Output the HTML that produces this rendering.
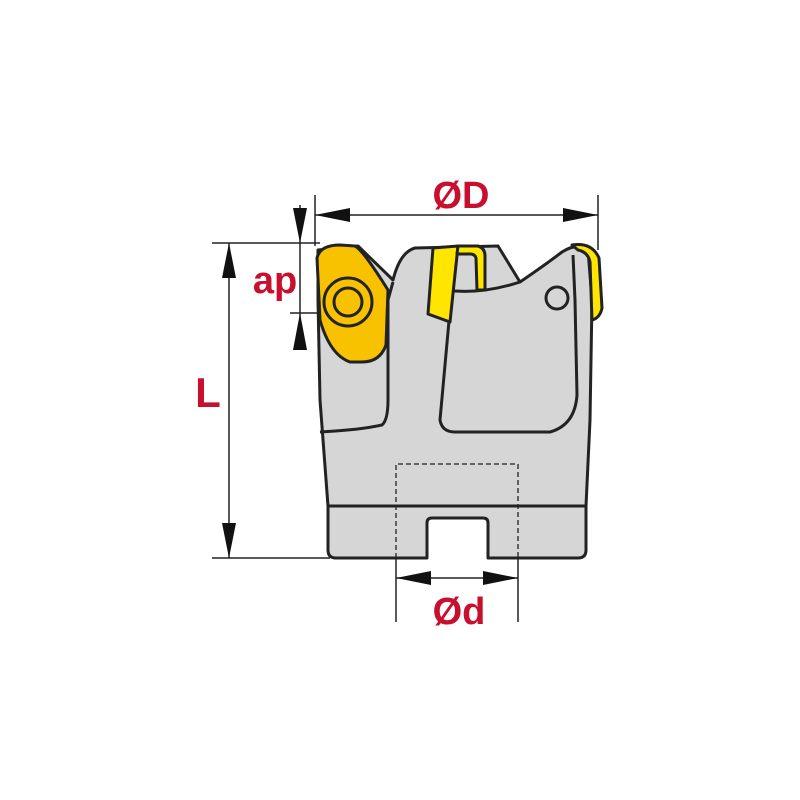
<!DOCTYPE html>
<html><head><style>body{margin:0;background:#fff}svg{display:block}</style></head><body>
<svg width="800" height="800" viewBox="0 0 800 800" xmlns="http://www.w3.org/2000/svg">
<g stroke="#222" stroke-width="3" stroke-linejoin="round" fill="#d6d6d6">
<path d="M328,506 L586,506 L586,550 Q586,558 578,558 L488,558 L488,523 Q488,518 483,518 L432,518 Q427,518 427,523 L427,558 L336,558 Q328,558 328,550 Z"/>
<path d="M328,506 L320,400 L318,300 L318,250 L358,246 L393,280 Q400,252 415,248 L498,246 L520,282 Q545,265 562,252 Q578,242 588,250 L592,300 L590,420 L586,506 Z"/>
<path d="M320,432 Q360,430 382,425 Q388,420 388,400 L388,300 L393,282" fill="none"/>
<path d="M450,310 L440,420 Q442,432 455,432 L550,432 Q575,425 577,395 L575,300 L573,255" fill="none"/>
<path d="M445,290 Q480,295 520,282" fill="none"/>
<circle cx="557" cy="298" r="11" fill="#d6d6d6"/>
</g>
<g stroke="#222" stroke-width="3" stroke-linejoin="round">
<path d="M317,258 Q320,245 340,245 L355,246 Q363,250 388,290 L386,345 Q380,362 362,362 L350,362 Q330,355 320,320 Z" fill="#f8c200"/>
<circle cx="348" cy="302" r="24" fill="none"/>
<circle cx="348" cy="302" r="14" fill="none"/>
<path d="M433,248 L458,246 L450,322 L428,314 Z" fill="#ffe500"/>
<path d="M458,246 L478,246 Q485,248 485,256 L485,290 L477,290 L476,258 Q475,254 470,254 L457,254 Z" fill="#ffe500"/>
<path d="M572,245 Q592,242 599,258 L602,308 Q600,318 592,320 L590,262 Q588,252 578,250 Z" fill="#ffe500"/>
</g>
<path d="M396,558 L396,464 L518,464 L518,558" fill="none" stroke="#222" stroke-width="1.3" stroke-dasharray="5,3"/>
<g stroke="#222" stroke-width="1.5" fill="none">
<line x1="315" y1="195" x2="315" y2="246"/><line x1="598" y1="195" x2="598" y2="250"/>
<line x1="315" y1="215" x2="598" y2="215"/>
<line x1="212" y1="243" x2="320" y2="243"/><line x1="290" y1="313" x2="320" y2="313"/>
<line x1="212" y1="558" x2="330" y2="558"/>
<line x1="229" y1="243" x2="229" y2="558"/>
<line x1="300" y1="205" x2="300" y2="350"/>
<line x1="396" y1="558" x2="396" y2="622"/><line x1="518" y1="558" x2="518" y2="622"/>
<line x1="396" y1="578" x2="518" y2="578"/>
</g>
<g fill="#111">
<polygon points="315,215 350,208 350,222"/><polygon points="598,215 563,208 563,222"/>
<polygon points="229,243 222,278 236,278"/><polygon points="229,558 222,523 236,523"/>
<polygon points="300,243 293,208 307,208"/><polygon points="300,313 293,350 307,350"/>
<polygon points="396,578 431,571 431,585"/><polygon points="518,578 483,571 483,585"/>
</g>
<g fill="#c8102e" font-family="Liberation Sans, sans-serif" font-weight="bold" font-size="38">
<text x="461" y="208" text-anchor="middle">ØD</text>
<text x="275" y="293" text-anchor="middle">ap</text>
<text x="208" y="407" text-anchor="middle" font-size="42">L</text>
<text x="459" y="624" text-anchor="middle">Ød</text>
</g>
</svg>
</body></html>
